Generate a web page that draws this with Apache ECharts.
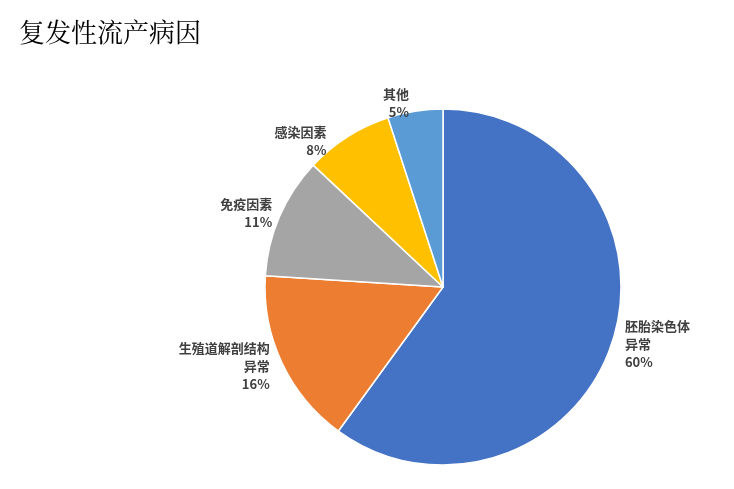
<!DOCTYPE html>
<html><head><meta charset="utf-8">
<script src="https://cdn.jsdelivr.net/npm/echarts@6/dist/echarts.min.js"></script>
<style>html,body{margin:0;padding:0;background:#fff}#c{width:734px;height:489px}</style>
</head><body><div id="c"></div>
<script>
const categories = ["胚胎染色体\n异常", "生殖道解剖结构\n异常", "免疫因素", "感染因素", "其他"];
const values = [60, 16, 11, 8, 5];
const colors = ["#4472C4", "#ED7D31", "#A5A5A5", "#FFC000", "#5B9BD5"];
const chart = echarts.init(document.getElementById('c'));
chart.setOption({
  animation: false,
  title: { text: "复发性流产病因", left: 14, top: 14,
    textStyle: { fontFamily: "Noto Serif CJK SC, Noto Sans CJK SC, serif", fontSize: 26, fontWeight: "normal", color: "#000" } },
  color: colors,
  series: [{
    type: "pie", center: [443, 287], radius: 178, startAngle: 90, clockwise: true,
    itemStyle: { borderColor: "#fff", borderWidth: 1.5 },
    label: { show: true, position: "outside", distance: 10, color: "#404040", fontSize: 13, fontWeight: "bold",
      fontFamily: "Noto Sans CJK SC", lineHeight: 18, align: "center",
      formatter: p => p.name + "\n" + p.value + "%" },
    labelLine: { show: false, length: 8, length2: 0 },
    data: categories.map((n, i) => ({ name: n, value: values[i] }))
  }]
});
</script></body></html>
